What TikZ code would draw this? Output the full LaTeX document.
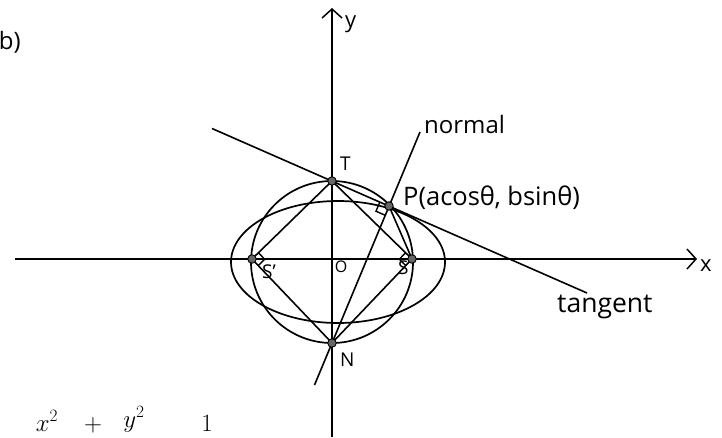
\documentclass[tikz,border=0pt]{standalone}
\usepackage{fontspec}
\setmainfont{Open Sans}
\usetikzlibrary{arrows.meta,calc}
\begin{document}
\begin{tikzpicture}[x=1pt,y=-1pt,
  curve/.style={line width=1.7pt},
  seg/.style={line width=1.6pt},
  axisline/.style={line width=1.3pt, -{Straight Barb[length=9pt,width=20pt,line width=1.5pt]}},
  dot/.style={circle, draw=black, fill=black!60, line width=0.9pt, inner sep=0pt, minimum size=8.5pt},
  lbl/.style={inner sep=0pt, font=\fontsize{24}{28}\selectfont},
  ptlbl/.style={inner sep=0pt, font=\fontsize{19}{22}\selectfont},
  eqlbl/.style={inner sep=0pt, font=\fontsize{27}{30}\selectfont},
  ra/.style={line width=1.4pt}]
\useasboundingbox (0,0) rectangle (722,437);

% key points
\coordinate (O) at (332,262);
\coordinate (Ec) at (338,262);
\coordinate (T) at (332,181);
\coordinate (P) at (389,206);
\coordinate (S1) at (252,259);
\coordinate (S) at (412,259);
\coordinate (N) at (332,343);

% axes
\coordinate (xL) at (15,259);
\coordinate (xR) at (697,259);
\coordinate (yB) at (332,437);
\coordinate (yT) at (332,8);
\draw[axisline] (xL) -- (xR);
\draw[axisline] (yB) -- (yT);

% circle and ellipse
\draw[curve] (O) circle[radius=81pt];
\draw[curve] (Ec) ellipse[x radius=107pt, y radius=61pt];

% tangent and normal
\coordinate (tA) at (212,128.5);
\coordinate (tB) at (587,293);
\draw[seg] (tA) -- (tB);
\coordinate (nA) at (420,132);
\coordinate (nB) at (314.5,385);
\draw[seg] (nA) -- (nB);

% chords
\draw[seg] (T) -- (S1) -- (N) -- (S) -- cycle;
\draw[seg] (P) -- (S);

% right-angle marks
\coordinate (pa) at ($(P)!10pt!(T)$);
\coordinate (pb) at ($(P)!10pt!(N)$);
\draw[ra] (pa) -- ($(pa)+(pb)-(P)$) -- (pb);
\coordinate (sa) at ($(S1)!9pt!(T)$);
\coordinate (sb) at ($(S1)!9pt!(N)$);
\draw[ra] (sa) -- ($(sa)+(sb)-(S1)$) -- (sb);
\coordinate (ua) at ($(S)!9pt!(T)$);
\coordinate (ub) at ($(S)!9pt!(N)$);
\draw[ra] (ua) -- ($(ua)+(ub)-(S)$) -- (ub);

% dots
\node[dot] (Td) at (T) {};
\node[dot] (Pd) at (P) {};
\node[dot] (S1d) at (S1) {};
\node[dot] (Sd) at (S) {};
\node[dot] (Nd) at (N) {};

% labels
\node[ptlbl, anchor=base west] (lT) at (340,170) {T};
\node[ptlbl, anchor=base west] (lN) at (340,366) {N};
\node[inner sep=0pt, font=\fontsize{16}{18}\selectfont] (lO) at (341,267) {O};
\node[ptlbl, anchor=base west] (lS1) at (262,278) {S'};
\node[ptlbl, anchor=base west] (lS) at (398,274) {S};
\node[inner sep=0pt, anchor=base west, font=\fontsize{25.5}{30}\selectfont] (lP) at (403,205) {P(acosθ, bsinθ)};
\node[lbl, anchor=base west] (lnormal) at (424,133) {normal};
\node[inner sep=0pt, anchor=base west, font=\fontsize{26.5}{30}\selectfont] (ltangent) at (557,312) {tangent};
\node[inner sep=0pt, anchor=base west, font=\fontsize{22}{26}\selectfont] (lx) at (700,271) {x};
\node[inner sep=0pt, anchor=base west, font=\fontsize{22}{26}\selectfont] (ly) at (345,27) {y};
\node[lbl, anchor=base east] (lb) at (21,49) {b)};

% equation line at the bottom edge
\node[eqlbl, anchor=base] (ex) at (47,431) {$x^2$};
\node[eqlbl, anchor=base] (eplus) at (93,431) {$+$};
\node[eqlbl, anchor=base] (ey) at (134,427) {$y^2$};
\node[eqlbl, anchor=base] (eone) at (207,431) {$1$};
\end{tikzpicture}
\end{document}
